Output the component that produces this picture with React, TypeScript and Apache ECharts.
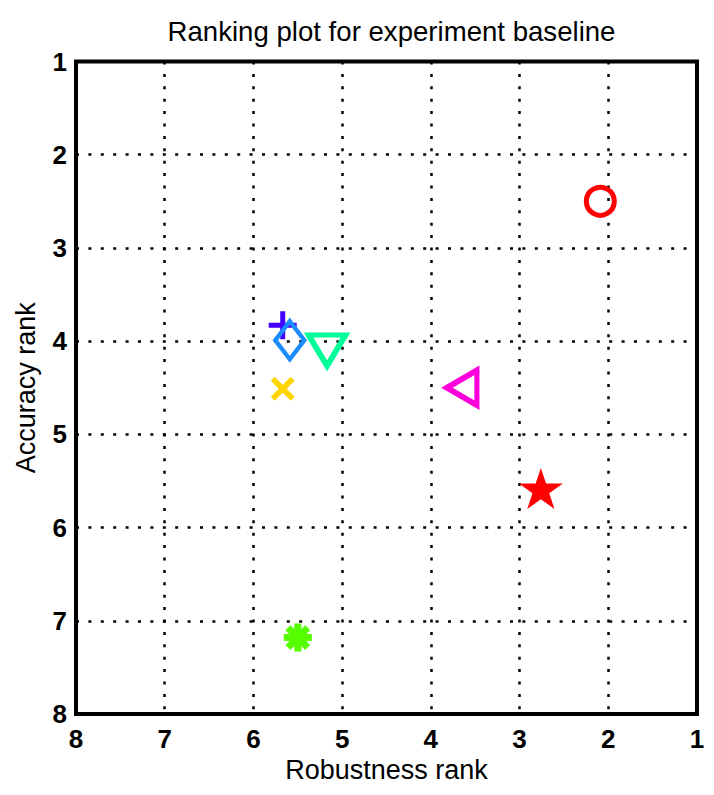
import React, { useEffect, useRef } from "react";
import * as echarts from "echarts";

const titleText = "Ranking plot for experiment baseline";
const xAxisName = "Robustness rank";
const yAxisName = "Accuracy rank";
const methods = ["plus", "diamond", "triangleDown", "cross", "triangleLeft", "star", "circle", "asterisk"];
const robustnessRank = [5.67, 5.59, 5.17, 5.67, 3.65, 2.76, 2.09, 5.5];
const accuracyRank = [3.83, 3.99, 4.1, 4.51, 4.5, 5.58, 2.5, 7.18];

const FONT = "'Liberation Sans', Arial, Helvetica, sans-serif";

const markerStyles: Record<string, any> = {
  plus: { symbol: "path://M0,-1L0,1M-1,0L1,0", size: [28, 28], color: "#4400ff", hollow: true, bw: 5 },
  diamond: { symbol: "diamond", size: [29, 38], color: "#1a8cff", hollow: true, bw: 4.5 },
  triangleDown: { symbol: "path://M0,0L2,0L1,1.7Z", size: [37, 31], color: "#00ff99", hollow: true, bw: 5.5 },
  cross: { symbol: "path://M-1,-1L1,1M-1,1L1,-1", size: [20, 20], color: "#ffd500", hollow: true, bw: 5.5 },
  triangleLeft: { symbol: "path://M0,1L1.7,0L1.7,2Z", size: [30, 35], color: "#ff00dd", hollow: true, bw: 5.5 },
  star: {
    symbol:
      "path://M0,-1L0.2245,-0.309L0.951,-0.309L0.363,0.118L0.588,0.809L0,0.382L-0.588,0.809L-0.363,0.118L-0.951,-0.309L-0.2245,-0.309Z",
    size: [44, 41],
    color: "#ff0000",
    hollow: false,
    bw: 0,
  },
  circle: { symbol: "circle", size: [28, 28], color: "#ff0000", hollow: true, bw: 5 },
  asterisk: {
    symbol: "path://M0,-1L0,1M-1,0L1,0M-0.707,-0.707L0.707,0.707M-0.707,0.707L0.707,-0.707",
    size: [28, 28],
    color: "#55ff00",
    hollow: true,
    bw: 7,
  },
};

export default function App() {
  const ref = useRef<HTMLDivElement>(null);
  useEffect(() => {
    document.body.style.margin = "0";
    if (!ref.current) return;
    const chart = echarts.init(ref.current, undefined, { renderer: "svg" });
    const series = methods.map((m, i) => {
      const st = markerStyles[m];
      return {
        type: "scatter",
        name: m,
        data: [[robustnessRank[i], accuracyRank[i]]],
        symbol: st.symbol,
        symbolSize: st.size,
        itemStyle: st.hollow
          ? { color: "rgba(0,0,0,0)", borderColor: st.color, borderWidth: st.bw, opacity: 1 }
          : { color: st.color, opacity: 1 },
        emphasis: { disabled: true },
        z: 5,
      };
    });
    const axisCommon = {
      type: "value",
      min: 1,
      max: 8,
      interval: 1,
      inverse: true,
      axisLine: { show: false },
      axisTick: { show: false },
      splitLine: { show: true, lineStyle: { color: "#000", width: 2.5, type: [3, 9.4] } },
      nameTextStyle: { fontFamily: FONT, fontSize: 27, color: "#000" },
    };
    chart.setOption({
      animation: false,
      backgroundColor: "#fff",
      title: {
        text: titleText,
        left: 386.5,
        top: 12,
        textAlign: "center",
        textStyle: { fontFamily: FONT, fontSize: 27.6, fontWeight: "normal", color: "#000" },
      },
      grid: {
        left: 76,
        right: 17,
        top: 61.5,
        bottom: 81,
        show: true,
        borderColor: "#000",
        borderWidth: 4,
        backgroundColor: "#fff",
      },
      xAxis: {
        ...axisCommon,
        name: xAxisName,
        nameLocation: "middle",
        nameGap: 42,
        axisLabel: { fontFamily: FONT, fontSize: 26, fontWeight: "bold", color: "#000", margin: 12 },
      },
      yAxis: {
        ...axisCommon,
        name: yAxisName,
        nameLocation: "middle",
        nameGap: 37,
        axisLabel: { fontFamily: FONT, fontSize: 26, fontWeight: "bold", color: "#000", margin: 9 },
      },
      series,
    });
    return () => chart.dispose();
  }, []);
  return (
    <div
      ref={ref}
      style={{ width: 714, height: 795, position: "absolute", left: 0, top: 0 }}
    />
  );
}
